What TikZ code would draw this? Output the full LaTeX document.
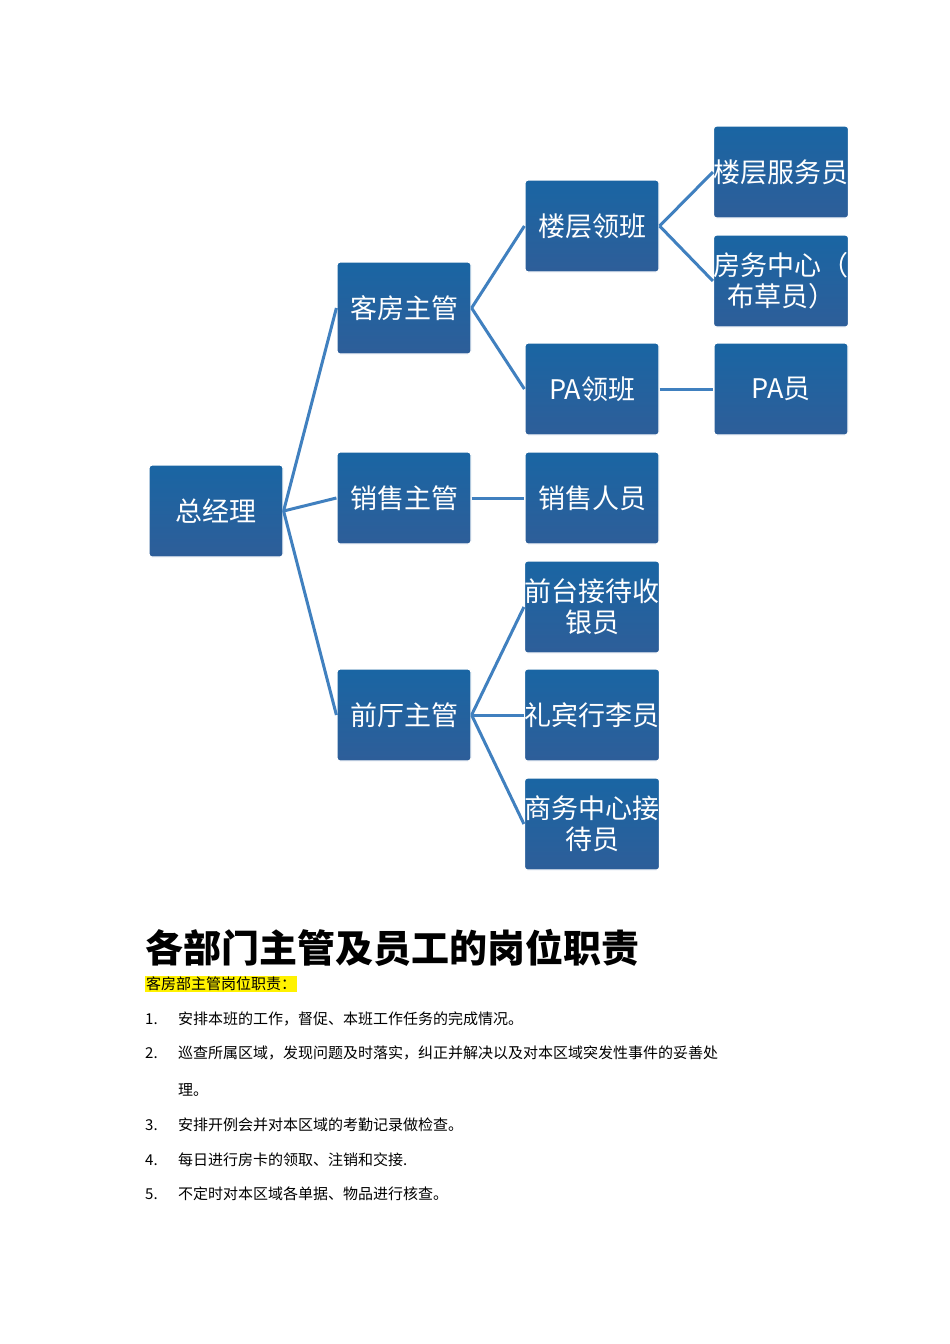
\documentclass[tikz,border=0pt]{standalone}
\usepackage{fontspec}
\setmainfont{Noto Sans CJK SC}
\newfontfamily\cjk{Noto Sans CJK SC}
\begin{document}
\begin{tikzpicture}[x=1pt,y=-1pt,
  box/.style={draw=white,line width=1.2pt,rounded corners=3pt,top color=blue!45!cyan!60!black!90,bottom color=blue!55!cyan!70!white!60!black,
    minimum width=134pt,minimum height=92pt,text=white,align=center,font=\fontsize{27}{31}\selectfont\cjk,inner sep=0pt},
  link/.style={draw=blue!50!cyan!50!gray,line width=3pt},
  body/.style={anchor=west,font=\fontsize{15}{18}\selectfont\cjk,inner sep=0pt}]
\useasboundingbox (0,0) rectangle (950,1344);
\fill[white] (0,0) rectangle (950,1344);
\tikzset{box/.append style={drop shadow/.style={}}}
\node[box] (gm) at (216,511) {总经理};
\node[box] (kf) at (404,308) {客房主管};
\node[box] (xs) at (404,498) {销售主管};
\node[box] (qt) at (404,715) {前厅主管};
\node[box] (lc) at (592,226) {楼层领班};
\node[box] (pa) at (592,389) {PA领班};
\node[box] (xr) at (592,498) {销售人员};
\node[box] (sy) at (592,607) {前台接待收\\银员};
\node[box] (lb) at (592,715) {礼宾行李员};
\node[box] (sw) at (592,824) {商务中心接\\待员};
\node[box] (fw) at (781,172) {楼层服务员};
\node[box] (bc) at (781,281) {房务中心（\\布草员）};
\node[box] (py) at (781,389) {PA员};
\foreach \a/\b in {gm/kf,gm/xs,gm/qt,kf/lc,kf/pa,xs/xr,qt/sy,qt/lb,qt/sw,lc/fw,lc/bc,pa/py}
  \draw[link] (\a.east) -- (\b.west);
\node[anchor=west,inner sep=0pt,font=\fontsize{38}{44}\selectfont\bfseries\cjk] (h) at (145,948) {各部门主管及员工的岗位职责};
\node[anchor=west,inner sep=1pt,fill=yellow,font=\fontsize{15}{18}\selectfont\cjk] (sub) at (145,984) {客房部主管岗位职责：};
\node[body] (n1) at (145,1019) {1.}; \node[body] (t1) at (178,1019) {安排本班的工作，督促、本班工作任务的完成情况。};
\node[body] (n2) at (145,1053) {2.}; \node[body] (t2) at (178,1053) {巡查所属区域，发现问题及时落实，纠正并解决以及对本区域突发性事件的妥善处};
\node[body] (t2b) at (178,1090) {理。};
\node[body] (n3) at (145,1125) {3.}; \node[body] (t3) at (178,1125) {安排开例会并对本区域的考勤记录做检查。};
\node[body] (n4) at (145,1160) {4.}; \node[body] (t4) at (178,1160) {每日进行房卡的领取、注销和交接.};
\node[body] (n5) at (145,1194) {5.}; \node[body] (t5) at (178,1194) {不定时对本区域各单据、物品进行核查。};
\end{tikzpicture}
\end{document}
